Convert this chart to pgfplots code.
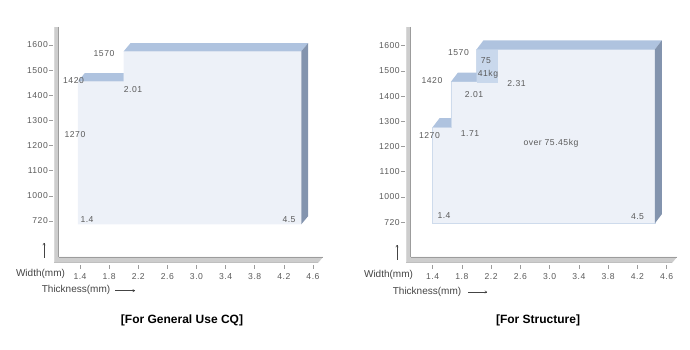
\documentclass[border=0pt]{standalone}
\usepackage{pgfplots}
\pgfplotsset{compat=1.18}
\usetikzlibrary{arrows.meta}
\usepackage{fontspec}
\setmainfont{Liberation Sans}
\definecolor{front}{HTML}{EDF1F8}
\definecolor{topf}{HTML}{AFC3DF}
\definecolor{side}{HTML}{8394AE}
\definecolor{boxc}{HTML}{C9D8EC}
\definecolor{edge}{HTML}{CEDBEC}
\definecolor{txt}{HTML}{5A5A5A}
\definecolor{lab}{HTML}{444444}
\definecolor{barl}{HTML}{CDCDCD}
\definecolor{bard}{HTML}{9C9C9C}
\newcommand\tk{\fontsize{8.6}{9}\selectfont\addfontfeature{LetterSpace=6}}
\pgfplotsset{myax/.style={
  anchor=south west, clip=false,
  axis x line*=bottom, axis y line*=left,
  axis line style={draw=none},
  xmax=4.85, ymax=1700,
  xtick={1.4,1.8,2.2,2.6,3.0,3.4,3.8,4.2,4.6},
  xticklabels={1.4,1.8,2.2,2.6,3.0,3.4,3.8,4.2,4.6},
  ytick={900,1000,1100,1200,1300,1400,1500,1600},
  yticklabels={720,1000,1100,1200,1300,1400,1500,1600},
  tick align=outside, major tick length=4pt,
  tick style={color=bard, line width=0.6pt},
  ticklabel style={font=\tk, text=txt},
  xticklabel style={inner sep=1pt, yshift=-3.5pt},
  yticklabel style={inner sep=1pt},
}}
\begin{document}
\begin{tikzpicture}
\useasboundingbox (0,0) rectangle (690pt,350pt);
% ---------- left panel ----------
\begin{axis}[myax, x=72.8pt, y=0.2514pt, xmin=1.029, ymin=725, at={(53.0pt,85pt)}]
\addplot[fill=front, draw=none] coordinates {(1.37,887) (1.37,1455) (2.0,1455) (2.0,1575) (4.44,1575) (4.44,887)} -- cycle;
\addplot[fill=topf, draw=none] coordinates {(1.37,1455) (1.465,1488) (2.0,1488) (2.0,1455)} -- cycle;
\addplot[fill=topf, draw=none] coordinates {(2.0,1575) (2.095,1608) (4.535,1608) (4.44,1575)} -- cycle;
\addplot[fill=side, draw=none] coordinates {(4.44,887) (4.535,920) (4.535,1608) (4.44,1575)} -- cycle;
\begin{scope}[every node/.style={font=\tk, text=txt}]
\node at (axis cs:1.73,1566) {1570};
\node at (axis cs:1.311,1457) {1420};
\node at (axis cs:2.128,1421) {2.01};
\node at (axis cs:1.331,1242) {1270};
\node at (axis cs:1.496,904) {1.4};
\node at (axis cs:4.271,904) {4.5};
\end{scope}
\end{axis}
% ---------- right panel ----------
\begin{axis}[myax, x=73.1pt, y=0.2523pt, xmin=1.02, ymin=731, at={(404.9pt,85.1pt)}]
\addplot[fill=front, draw=edge, line width=0.8pt] coordinates {(1.4,896) (1.4,1277) (1.65,1277) (1.65,1457) (2.0,1457) (2.0,1585) (4.44,1585) (4.44,896)} -- cycle;
\addplot[fill=boxc, draw=none] coordinates {(2.0,1452) (2.0,1585) (2.3,1585) (2.3,1452)} -- cycle;
\addplot[fill=topf, draw=none] coordinates {(1.4,1277) (1.495,1313) (1.65,1313) (1.65,1277)} -- cycle;
\addplot[fill=topf, draw=none] coordinates {(1.65,1457) (1.745,1493) (2.0,1493) (2.0,1457)} -- cycle;
\addplot[fill=topf, draw=none] coordinates {(2.0,1585) (2.095,1621) (4.535,1621) (4.44,1585)} -- cycle;
\addplot[fill=side, draw=none] coordinates {(4.44,896) (4.535,932) (4.535,1621) (4.44,1585)} -- cycle;
\begin{scope}[every node/.style={font=\tk, text=txt}]
\node at (axis cs:1.753,1571) {1570};
\node at (axis cs:2.129,1539) {75};
\node at (axis cs:2.156,1486) {41kg};
\node at (axis cs:1.39,1460) {1420};
\node at (axis cs:2.546,1448) {2.31};
\node at (axis cs:1.965,1405) {2.01};
\node at (axis cs:1.356,1244) {1270};
\node at (axis cs:1.910,1252) {1.71};
\node at (axis cs:3.018,1214) {over 75.45kg};
\node at (axis cs:1.555,925) {1.4};
\node at (axis cs:4.202,923) {4.5};
\end{scope}
\end{axis}
% ---------- frames and captions (pixel coordinates) ----------
\begin{scope}[x=1pt, y=-1pt, shift={(0pt,350pt)}]
\foreach \o/\r in {0/323, 352/677} {
  \fill[barl] (54+\o,27) rectangle (59+\o,262);
  \draw[bard, line width=0.8pt] (58.6+\o,27) -- (58.6+\o,257);
  \draw[white!85!black, line width=0.5pt] (54.3+\o,27) -- (54.3+\o,262);
  \fill[barl] (54+\o,263) -- (59+\o,257) -- (\r,257) -- (\r-5,263) -- cycle;
  \draw[bard, line width=0.8pt] (58.6+\o,257.4) -- (\r,257.4);
  \draw[white!75!black, line width=0.6pt] (54+\o,262.7) -- (\r-5,262.7);
}
\begin{scope}[every node/.style={font=\fontsize{10}{12}\selectfont, text=lab}]
\node at (40.5,274) {Width(mm)};
\node at (76,290) {Thickness(mm)};
\node at (388.5,275) {Width(mm)};
\node at (427,292) {Thickness(mm)};
\end{scope}
\draw[lab, line width=0.5pt, -{To[length=2.5pt,width=3pt]}] (44,258) -- (44,243);
\draw[lab, line width=0.5pt, -{To[length=2.5pt,width=3pt]}] (397,260) -- (397,245);
\draw[lab, line width=0.5pt, -{To[length=2.5pt,width=3pt]}] (115,290.7) -- (135,290.7);
\draw[lab, line width=0.5pt, -{To[length=2.5pt,width=3pt]}] (468,292) -- (487,292);
\node[font=\bfseries\fontsize{12}{14}\selectfont] at (182,320) {[For General Use CQ]};
\node[font=\bfseries\fontsize{12}{14}\selectfont] at (538,320) {[For Structure]};
\end{scope}
\end{tikzpicture}
\end{document}
